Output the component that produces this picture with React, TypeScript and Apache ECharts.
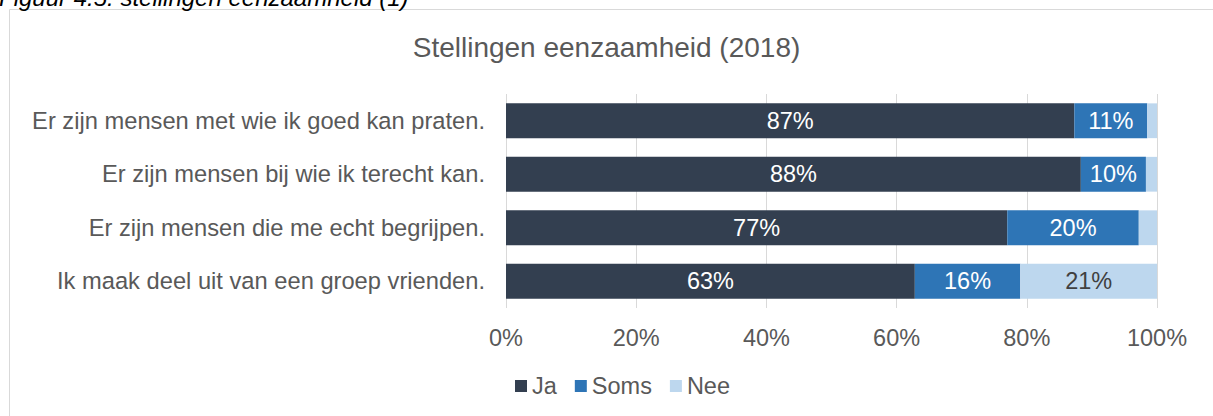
import React, { useEffect, useRef } from "react";
import * as echarts from "echarts";

const categories = [
  "Er zijn mensen met wie ik goed kan praten.",
  "Er zijn mensen bij wie ik terecht kan.",
  "Er zijn mensen die me echt begrijpen.",
  "Ik maak deel uit van een groep vrienden.",
];
const ja = [87.3, 88.3, 77.0, 62.8];
const soms = [11.2, 10.0, 20.2, 16.2];
const nee = [1.5, 1.7, 2.8, 21.0];
const seriesNames = ["Ja", "Soms", "Nee"];
const colors = ["#333f50", "#2e75b6", "#bdd7ee"];
const labelColors = ["#ffffff", "#ffffff", "#404040"];

export default function App() {
  const ref = useRef<HTMLDivElement>(null);
  useEffect(() => {
    if (!ref.current) return;
    const chart = echarts.init(ref.current, null, { renderer: "svg" });
    const font = "Liberation Sans, Arial, sans-serif";
    const datasets = [ja, soms, nee];
    chart.setOption({
      animation: false,
      textStyle: { fontFamily: font },
      title: {
        text: "Stellingen eenzaamheid (2018)",
        left: "center",
        top: 28,
        textStyle: { fontSize: 28, fontWeight: "normal", color: "#595959", fontFamily: font },
      },
      legend: {
        bottom: 13,
        left: 510,
        itemWidth: 12,
        itemHeight: 12,
        itemGap: 18,
        icon: "rect",
        textStyle: { fontSize: 23.5, color: "#595959", fontFamily: font },
        data: seriesNames,
      },
      graphic: [
        {
          type: "rect",
          shape: { x: 9.5, y: 9.5, width: 1300, height: 500 },
          style: { fill: "none", stroke: "#d9d9d9", lineWidth: 1 },
          silent: true,
          z: -10,
        },
        {
          type: "text",
          left: -1,
          top: -15,
          style: {
            text: "Figuur 4.5: stellingen eenzaamheid (1)",
            fontSize: 24,
            fontStyle: "italic",
            fontFamily: font,
            fill: "#000000",
          },
        },
      ],
      grid: { left: 506, right: 56, top: 94, bottom: 108, containLabel: false },
      xAxis: {
        type: "value",
        min: 0,
        max: 100,
        interval: 20,
        axisLabel: {
          formatter: "{value}%",
          fontSize: 23.5,
          color: "#595959",
          margin: 18,
          fontFamily: font,
        },
        splitLine: { show: true, lineStyle: { color: "#d9d9d9", width: 1 } },
        axisLine: { show: false },
        axisTick: { show: false },
      },
      yAxis: {
        type: "category",
        data: categories,
        inverse: true,
        axisLabel: { fontSize: 23.7, color: "#595959", margin: 21, fontFamily: font },
        axisLine: { show: false },
        axisTick: { show: false },
      },
      series: seriesNames.map((name, i) => ({
        name,
        type: "bar",
        stack: "total",
        barCategoryGap: "35%",
        data: datasets[i],
        itemStyle: { color: colors[i] },
        label: {
          show: true,
          position: "inside",
          fontSize: 23.5,
          color: labelColors[i],
          fontFamily: font,
          formatter: (p: any) => (p.value >= 5 ? Math.round(p.value) + "%" : ""),
        },
      })),
    });
    return () => chart.dispose();
  }, []);
  return (
    <div
      ref={ref}
      style={{ position: "fixed", left: 0, top: 0, width: 1213, height: 416, background: "#fff" }}
    />
  );
}
